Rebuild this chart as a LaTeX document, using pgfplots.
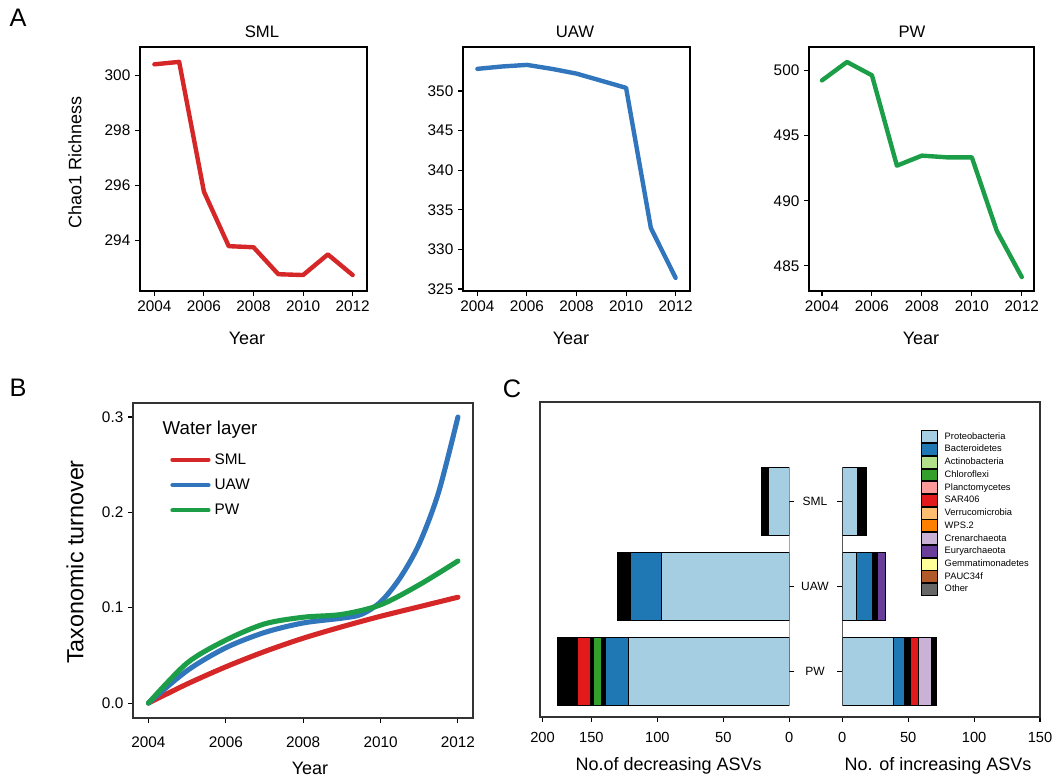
\documentclass[border=0pt]{standalone}
\usepackage{pgfplots}
\pgfplotsset{compat=1.18}
\usepackage{fontspec}
\setmainfont{Liberation Sans}

\definecolor{cred}{RGB}{214,39,40}
\definecolor{cblue}{RGB}{49,118,188}
\definecolor{cgreen}{RGB}{28,158,72}
\definecolor{proteo}{HTML}{A6CEE3}
\definecolor{bacter}{HTML}{1F78B4}
\definecolor{actino}{HTML}{B2DF8A}
\definecolor{chloro}{HTML}{33A02C}
\definecolor{plancto}{HTML}{FB9A99}
\definecolor{sar}{HTML}{E31A1C}
\definecolor{verru}{HTML}{FDBF6F}
\definecolor{wps}{HTML}{FF7F00}
\definecolor{creno}{HTML}{CAB2D6}
\definecolor{eury}{HTML}{6A3D9A}
\definecolor{gemma}{HTML}{FFFF99}
\definecolor{pauc}{HTML}{B15928}
\definecolor{other}{HTML}{666666}
\definecolor{framec}{HTML}{333333}

\newcommand{\fs}[1]{\fontsize{#1}{#1}\selectfont}

\pgfplotsset{
  base/.style={scale only axis, anchor=north west,
    /pgf/number format/assume math mode=true,
    /pgf/number format/1000 sep={},
    tick align=outside, major tick length=3.75pt,
    xtick pos=left, ytick pos=left,
    tick style={line width=0.8pt, black},
    tick label style={font=\fs{11.5}},
    axis line style={line width=1.2pt},
  },
  panelA/.style={base, width=170.25pt, height=183pt,
    xmin=2003.42, xmax=2012.58, xtick={2004,2006,2008,2010,2012},
    every axis plot/.append style={line width=3.3pt, line join=round, line cap=round, mark=none}},
  panelC/.style={base, height=236.25pt, xbar stacked, bar width=51pt,
    ymin=0.459, ymax=4.17, axis line style={draw=none},
    ytick={1,2,3}, yticklabels={}, tick label style={font=\fs{11}},
    xticklabel style={yshift=-4.5pt},
    every axis plot/.append style={draw=black, line width=0.5pt}},
}

\begin{document}
\begin{tikzpicture}[x=0.75pt,y=-0.75pt]
\path[use as bounding box] (0,0) rectangle (1059,780);

% ---------------- Panel A ----------------
\node[font=\fs{19}] at (18,18) {A};
\node[font=\fs{12.5}] at (262,32) {SML};
\node[font=\fs{12.5}] at (575,32) {UAW};
\node[font=\fs{12.5}] at (912,32) {PW};
\node[font=\fs{13.5}] at (247,338) {Year};
\node[font=\fs{13.5}] at (571,338) {Year};
\node[font=\fs{13.5}] at (921,338) {Year};
\node[font=\fs{13.5}, rotate=90] at (75,162) {Chao1 Richness};

\begin{axis}[panelA, at={(105pt,-35.25pt)}, ymin=292.15, ymax=301.02, ytick={294,296,298,300}]
\addplot[cred] coordinates {(2004,300.39) (2005,300.48) (2006,295.76) (2007,293.78) (2008,293.74) (2009,292.76) (2010,292.73) (2011,293.48) (2012,292.73)};
\end{axis}

\begin{axis}[panelA, at={(347.25pt,-35.25pt)}, ymin=324.75, ymax=355.56, ytick={325,330,335,340,345,350}]
\addplot[cblue] coordinates {(2004,352.8) (2005,353.1) (2006,353.3) (2007,352.8) (2008,352.2) (2009,351.3) (2010,350.4) (2011,332.7) (2012,326.4)};
\end{axis}

\begin{axis}[panelA, at={(606.75pt,-35.25pt)}, width=168.75pt, xmin=2003.48, xmax=2012.49, ymin=483.08, ymax=501.79, ytick={485,490,495,500}]
\addplot[cgreen] coordinates {(2004,499.23) (2005,500.64) (2006,499.62) (2007,492.69) (2008,493.46) (2009,493.33) (2010,493.33) (2011,487.69) (2012,484.15)};
\end{axis}

% ---------------- Panel B ----------------
\node[font=\fs{19}] at (18,388) {B};
\node[font=\fs{13.5}] at (310,768) {Year};
\node[font=\fs{17.5}, rotate=90] at (75,562) {Taxonomic turnover};
\node[font=\fs{14}, anchor=west] at (158,430) {Water layer};

\begin{axis}[base, at={(99.75pt,-302.25pt)}, width=255pt, height=236.25pt,
  xmin=2003.6, xmax=2012.39, ymin=-0.0157, ymax=0.3147,
  xtick={2004,2006,2008,2010,2012}, ytick={0,0.1,0.2,0.3},
  xticklabel style={yshift=-7pt},
  yticklabel style={/pgf/number format/.cd, fixed, fixed zerofill, precision=1},
  axis line style={line width=1.3pt, draw=framec},
  legend style={at={(axis description cs:0.109,0.845)}, anchor=north west, draw=none, fill=none,
    inner sep=0pt, row sep=7.5pt, column sep=2pt, font=\fs{11.5}, nodes={inner sep=1pt}},
  legend cell align=left,
  legend image code/.code={\draw[#1, line width=3.2pt] (0pt,0pt) -- (27pt,0pt);},
  every axis plot/.append style={line width=3.8pt, smooth, mark=none, line cap=round}]
\addplot[cred] coordinates {(2004,0) (2005,0.020) (2006,0.038) (2007,0.054) (2008,0.068) (2009,0.080) (2010,0.091) (2011,0.101) (2012,0.111)};
\addlegendentry{SML}
\addplot[cblue] coordinates {(2004,0) (2005,0.034) (2006,0.058) (2007,0.074) (2008,0.084) (2009,0.089) (2009.5,0.093) (2010,0.106) (2010.5,0.131) (2011,0.167) (2011.5,0.221) (2012,0.30)};
\addlegendentry{UAW}
\addplot[cgreen] coordinates {(2004,0) (2005,0.042) (2006,0.066) (2007,0.083) (2008,0.090) (2009,0.093) (2010,0.103) (2011,0.124) (2012,0.149)};
\addlegendentry{PW}
\end{axis}

% ---------------- Panel C ----------------
\node[font=\fs{19}] at (512,389) {C};
\node[font=\fs{13.5}] at (668.7,766) {No.of decreasing ASVs};
\node[font=\fs{13.5}] at (938,766) {No. of increasing ASVs};
\node[font=\fs{9}] at (815,501.5) {SML};
\node[font=\fs{9}] at (815,586) {UAW};
\node[font=\fs{9}] at (815,671) {PW};

\begin{axis}[panelC, at={(405pt,-301.5pt)}, width=186.975pt,
  x dir=reverse, xmin=0, xmax=188.9,
  xtick={0,50,100,150,187}, xticklabels={0,50,100,150,200}, ytick pos=right]
\addplot[fill=proteo] coordinates {(121.7,1) (96.7,2) (15.6,3)};
\addplot[fill=bacter] coordinates {(17.7,1) (23.8,2) (0,3)};
\addplot[fill=black] coordinates {(3.2,1) (9.8,2) (5.6,3)};
\addplot[fill=chloro] coordinates {(5.9,1) (0,2) (0,3)};
\addplot[fill=black] coordinates {(2.3,1) (0,2) (0,3)};
\addplot[fill=sar] coordinates {(9.5,1) (0,2) (0,3)};
\addplot[fill=black] coordinates {(15.7,1) (0,2) (0,3)};
\draw[line width=0.8pt] (axis cs:0,1) -- (axis cs:0,3);
\end{axis}

\begin{axis}[panelC, at={(631.725pt,-301.5pt)}, width=148.275pt,
  xmin=0, xmax=150, xtick={0,50,100,150}]
\addplot[fill=proteo] coordinates {(38.6,1) (10.6,2) (11.6,3)};
\addplot[fill=bacter] coordinates {(8.8,1) (12.1,2) (0,3)};
\addplot[fill=black] coordinates {(4.3,1) (4.1,2) (6.8,3)};
\addplot[fill=sar] coordinates {(5.8,1) (0,2) (0,3)};
\addplot[fill=creno] coordinates {(9.9,1) (0,2) (0,3)};
\addplot[fill=eury] coordinates {(0,1) (6.1,2) (0,3)};
\addplot[fill=black] coordinates {(3.8,1) (0,2) (0,3)};
\draw[line width=0.8pt] (axis cs:0,1) -- (axis cs:0,3);
\end{axis}

\draw[framec, line width=1.5pt] (540,402) rectangle (1040,717);

\begin{axis}[at={(690.75pt,-322.5pt)}, anchor=north west, scale only axis, width=10pt, height=10pt,
  hide axis, xmin=0, xmax=1, ymin=0, ymax=1,
  legend style={at={(0,1)}, anchor=north west, draw=none, fill=none, inner sep=0pt,
    row sep=0pt, column sep=5pt, font=\fs{7}, nodes={inner sep=0pt}},
  legend cell align=left,
  legend image code/.code={\draw[#1, draw=black, line width=0.6pt] (0pt,-4.48pt) rectangle (12pt,4.48pt);}]
\addlegendimage{fill=proteo}\addlegendentry{Proteobacteria}
\addlegendimage{fill=bacter}\addlegendentry{Bacteroidetes}
\addlegendimage{fill=actino}\addlegendentry{Actinobacteria}
\addlegendimage{fill=chloro}\addlegendentry{Chloroflexi}
\addlegendimage{fill=plancto}\addlegendentry{Planctomycetes}
\addlegendimage{fill=sar}\addlegendentry{SAR406}
\addlegendimage{fill=verru}\addlegendentry{Verrucomicrobia}
\addlegendimage{fill=wps}\addlegendentry{WPS.2}
\addlegendimage{fill=creno}\addlegendentry{Crenarchaeota}
\addlegendimage{fill=eury}\addlegendentry{Euryarchaeota}
\addlegendimage{fill=gemma}\addlegendentry{Gemmatimonadetes}
\addlegendimage{fill=pauc}\addlegendentry{PAUC34f}
\addlegendimage{fill=other}\addlegendentry{Other}
\end{axis}

\end{tikzpicture}
\end{document}
